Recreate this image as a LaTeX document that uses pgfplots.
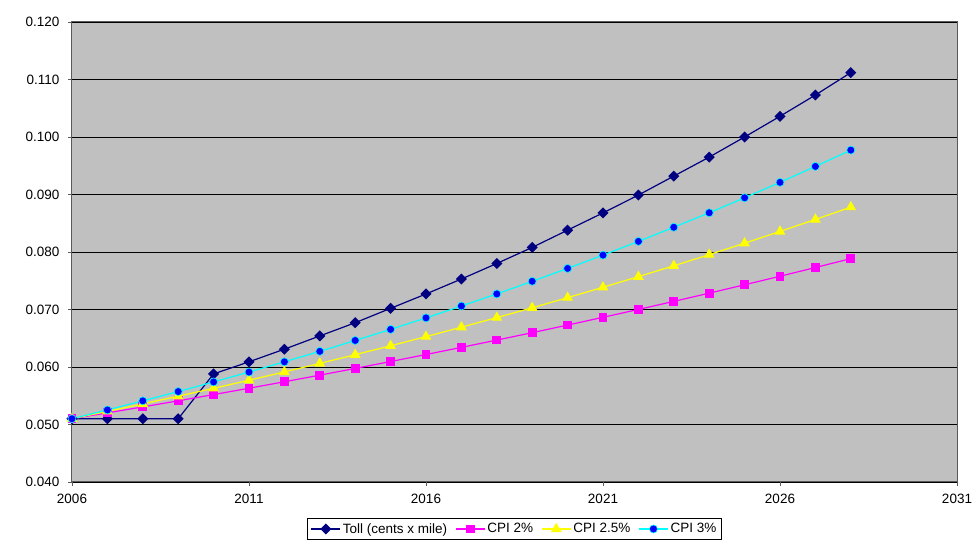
\documentclass[border=0pt]{standalone}
\usepackage{pgfplots}
\pgfplotsset{compat=1.18}
\usepackage{fontspec}
\setmainfont{Liberation Sans}
\definecolor{plotgray}{RGB}{192,192,192}
\definecolor{axgray}{RGB}{90,90,90}
\definecolor{navyline}{RGB}{0,0,128}
\definecolor{mag}{RGB}{255,0,255}
\definecolor{yel}{RGB}{255,255,0}
\definecolor{cya}{RGB}{0,255,255}
\definecolor{blu}{RGB}{0,0,255}
\begin{document}
\begin{tikzpicture}
\begin{axis}[
  name=ax,
  scale only axis,
  width=885pt, height=460pt,
  xmin=2006, xmax=2031, ymin=0.040, ymax=0.120,
  xtick={2006,2011,2016,2021,2026,2031},
  ytick={0.04,0.05,0.06,0.07,0.08,0.09,0.10,0.11,0.12},
  ymajorgrids,
  major grid style={black, line width=0.9pt},
  axis background/.style={fill=plotgray},
  axis line style={axgray, line width=1pt},
  tick style={axgray, line width=0.8pt},
  tick align=outside,
  major tick length=4pt,
  xtick pos=bottom, ytick pos=left,
  /pgf/number format/assume math mode=true,
  tick label style={font=\fontsize{13.5}{16}\selectfont},
  yticklabel style={/pgf/number format/fixed, /pgf/number format/precision=3, /pgf/number format/fixed zerofill, xshift=-5pt},
  xticklabel style={/pgf/number format/1000 sep={}, yshift=-5pt},
  legend columns=4,
  legend style={at={(0.5,0)}, anchor=north, yshift=-36pt, draw=black, line width=0.7pt,
    font=\fontsize{13.5}{16}\selectfont, inner sep=3pt,
    /tikz/every even column/.append style={column sep=6pt}},
  legend image code/.code={\draw[#1] (0pt,0pt) -- (29pt,0pt); \draw[#1, only marks] plot coordinates {(14.5pt,0pt)};},
  every axis plot/.append style={line width=1.2pt},
]
\addplot[navyline, mark=square*, mark size=3.3pt, mark options={fill=navyline, draw=navyline, rotate=45}] coordinates {
(2006,0.0510)(2007,0.0510)(2008,0.0510)(2009,0.0510)(2010,0.0588)(2011,0.0609)(2012,0.0631)(2013,0.0654)(2014,0.0677)(2015,0.0702)(2016,0.0727)(2017,0.0753)(2018,0.0780)(2019,0.0808)(2020,0.0838)(2021,0.0868)(2022,0.0899)(2023,0.0932)(2024,0.0965)(2025,0.1000)(2026,0.1036)(2027,0.1073)(2028,0.1112)};
\addlegendentry{Toll (cents x mile)}
\addplot[mag, mark=square*, mark size=3.8pt, mark options={fill=mag, draw=mag}] coordinates {
(2006,0.05100)(2007,0.05202)(2008,0.05306)(2009,0.05412)(2010,0.05520)(2011,0.05631)(2012,0.05743)(2013,0.05858)(2014,0.05975)(2015,0.06095)(2016,0.06217)(2017,0.06341)(2018,0.06468)(2019,0.06597)(2020,0.06729)(2021,0.06864)(2022,0.07001)(2023,0.07141)(2024,0.07284)(2025,0.07430)(2026,0.07578)(2027,0.07730)(2028,0.07885)};
\addlegendentry{CPI 2\%}
\addplot[yel, mark=triangle*, mark size=5pt, mark options={fill=yel, draw=yel}] coordinates {
(2006,0.05100)(2007,0.05228)(2008,0.05358)(2009,0.05492)(2010,0.05629)(2011,0.05770)(2012,0.05914)(2013,0.06062)(2014,0.06214)(2015,0.06369)(2016,0.06528)(2017,0.06692)(2018,0.06859)(2019,0.07030)(2020,0.07206)(2021,0.07386)(2022,0.07571)(2023,0.07760)(2024,0.07954)(2025,0.08153)(2026,0.08357)(2027,0.08566)(2028,0.08780)};
\addlegendentry{CPI 2.5\%}
\addplot[cya, mark=*, mark size=4pt, mark options={fill=blu, draw=cya, line width=0.6pt}] coordinates {
(2006,0.05100)(2007,0.05253)(2008,0.05411)(2009,0.05573)(2010,0.05740)(2011,0.05912)(2012,0.06090)(2013,0.06272)(2014,0.06461)(2015,0.06654)(2016,0.06854)(2017,0.07060)(2018,0.07271)(2019,0.07490)(2020,0.07714)(2021,0.07946)(2022,0.08184)(2023,0.08430)(2024,0.08682)(2025,0.08943)(2026,0.09211)(2027,0.09488)(2028,0.09772)};
\addlegendentry{CPI 3\%}
\end{axis}
\pgfresetboundingbox
\path ([shift={(-72pt,-65pt)}]ax.south west) rectangle ([shift={(17pt,22pt)}]ax.north east);
\end{tikzpicture}
\end{document}
